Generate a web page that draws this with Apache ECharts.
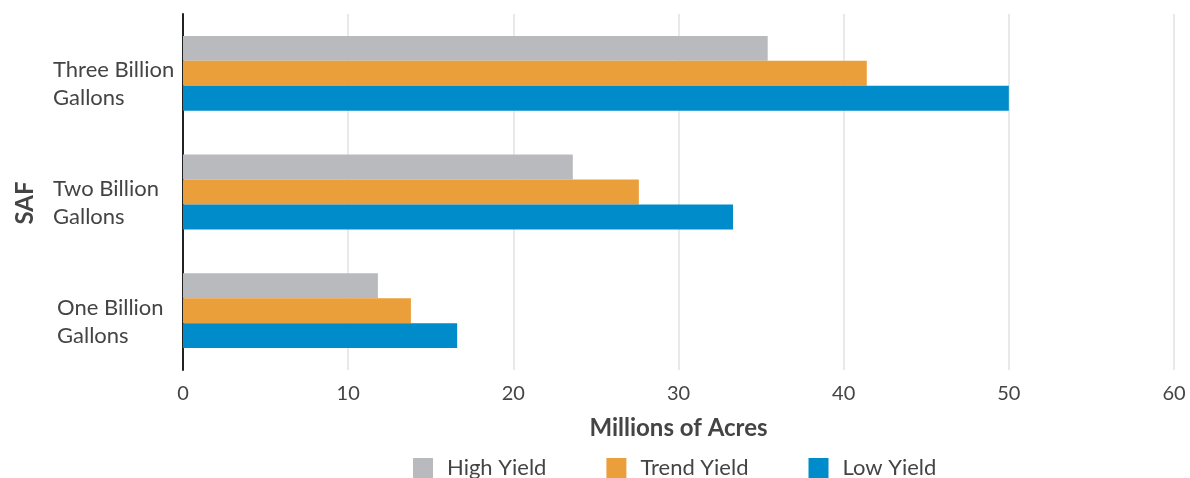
<!DOCTYPE html>
<html>
<head>
<meta charset="utf-8">
<script src="https://cdn.jsdelivr.net/npm/echarts@6/dist/echarts.min.js"></script>
<style>html,body{margin:0;padding:0;background:#fff}#c{width:1190px;height:478px}</style>
</head>
<body>
<div id="c"></div>
<script>
const categories = ['One Billion\nGallons', 'Two Billion\nGallons', 'Three Billion\nGallons'];
const seriesNames = ['High Yield', 'Trend Yield', 'Low Yield'];
const highYield = [11.8, 23.6, 35.4];
const trendYield = [13.8, 27.6, 41.4];
const lowYield = [16.6, 33.3, 50.0];
const xTicks = [0, 10, 20, 30, 40, 50, 60];
const colors = ['#b9babd', '#eb9f3a', '#008bcb'];

const chart = echarts.init(document.getElementById('c'));
const font = 'Lato, "Open Sans", sans-serif';
chart.setOption({
  animation: false,
  textStyle: { fontFamily: font },
  grid: { left: 183, right: 16, top: 14, bottom: 108, containLabel: false, outerBoundsMode: 'none' },
  legend: {
    top: 457, left: 413, padding: 0, itemWidth: 20, itemHeight: 20, itemGap: 60,
    icon: 'rect',
    textStyle: { fontSize: 22, color: '#444', fontFamily: font, padding: [0, 0, 0, 9] },
    data: seriesNames
  },
  xAxis: {
    type: 'value', min: xTicks[0], max: xTicks[xTicks.length - 1], interval: 10,
    name: 'Millions of Acres', nameLocation: 'middle', nameGap: 46,
    nameTextStyle: { fontSize: 24, fontWeight: 'bold', color: '#444', fontFamily: font },
    axisLine: { show: false }, axisTick: { show: false },
    axisLabel: { fontSize: 20, color: '#444', margin: 14, fontFamily: font },
    splitLine: { show: true, lineStyle: { color: '#e2e2e2', width: 1.5 } }
  },
  yAxis: {
    type: 'category', data: categories,
    name: 'SAF', nameLocation: 'middle', nameGap: 146, nameRotate: 90,
    nameTextStyle: { fontSize: 24, fontWeight: 'bold', color: '#444', fontFamily: font, padding: [0, 22, 0, 0] },
    axisLine: { show: true, lineStyle: { color: '#222', width: 2 } },
    axisTick: { show: false },
    axisLabel: {
      align: 'left', margin: 130, padding: [22, 0, 0, 0],
      fontSize: 22, lineHeight: 28, color: '#444', fontFamily: font,
      formatter: (v, i) => v.split('\n').map(l => (i === 0 ? '{o|' : '{n|') + l + '}').join('\n'),
      rich: {
        n: { fontSize: 22, lineHeight: 28, color: '#444', fontFamily: font },
        o: { fontSize: 22, lineHeight: 28, color: '#444', fontFamily: font, padding: [0, 0, 0, 4] }
      }
    },
    splitLine: { show: false }
  },
  series: [
    { name: seriesNames[0], type: 'bar', data: highYield, itemStyle: { color: colors[0] }, barGap: '0%', barCategoryGap: '37%' },
    { name: seriesNames[1], type: 'bar', data: trendYield, itemStyle: { color: colors[1] }, barGap: '0%', barCategoryGap: '37%' },
    { name: seriesNames[2], type: 'bar', data: lowYield, itemStyle: { color: colors[2] }, barGap: '0%', barCategoryGap: '37%' }
  ]
});
</script>
</body>
</html>
